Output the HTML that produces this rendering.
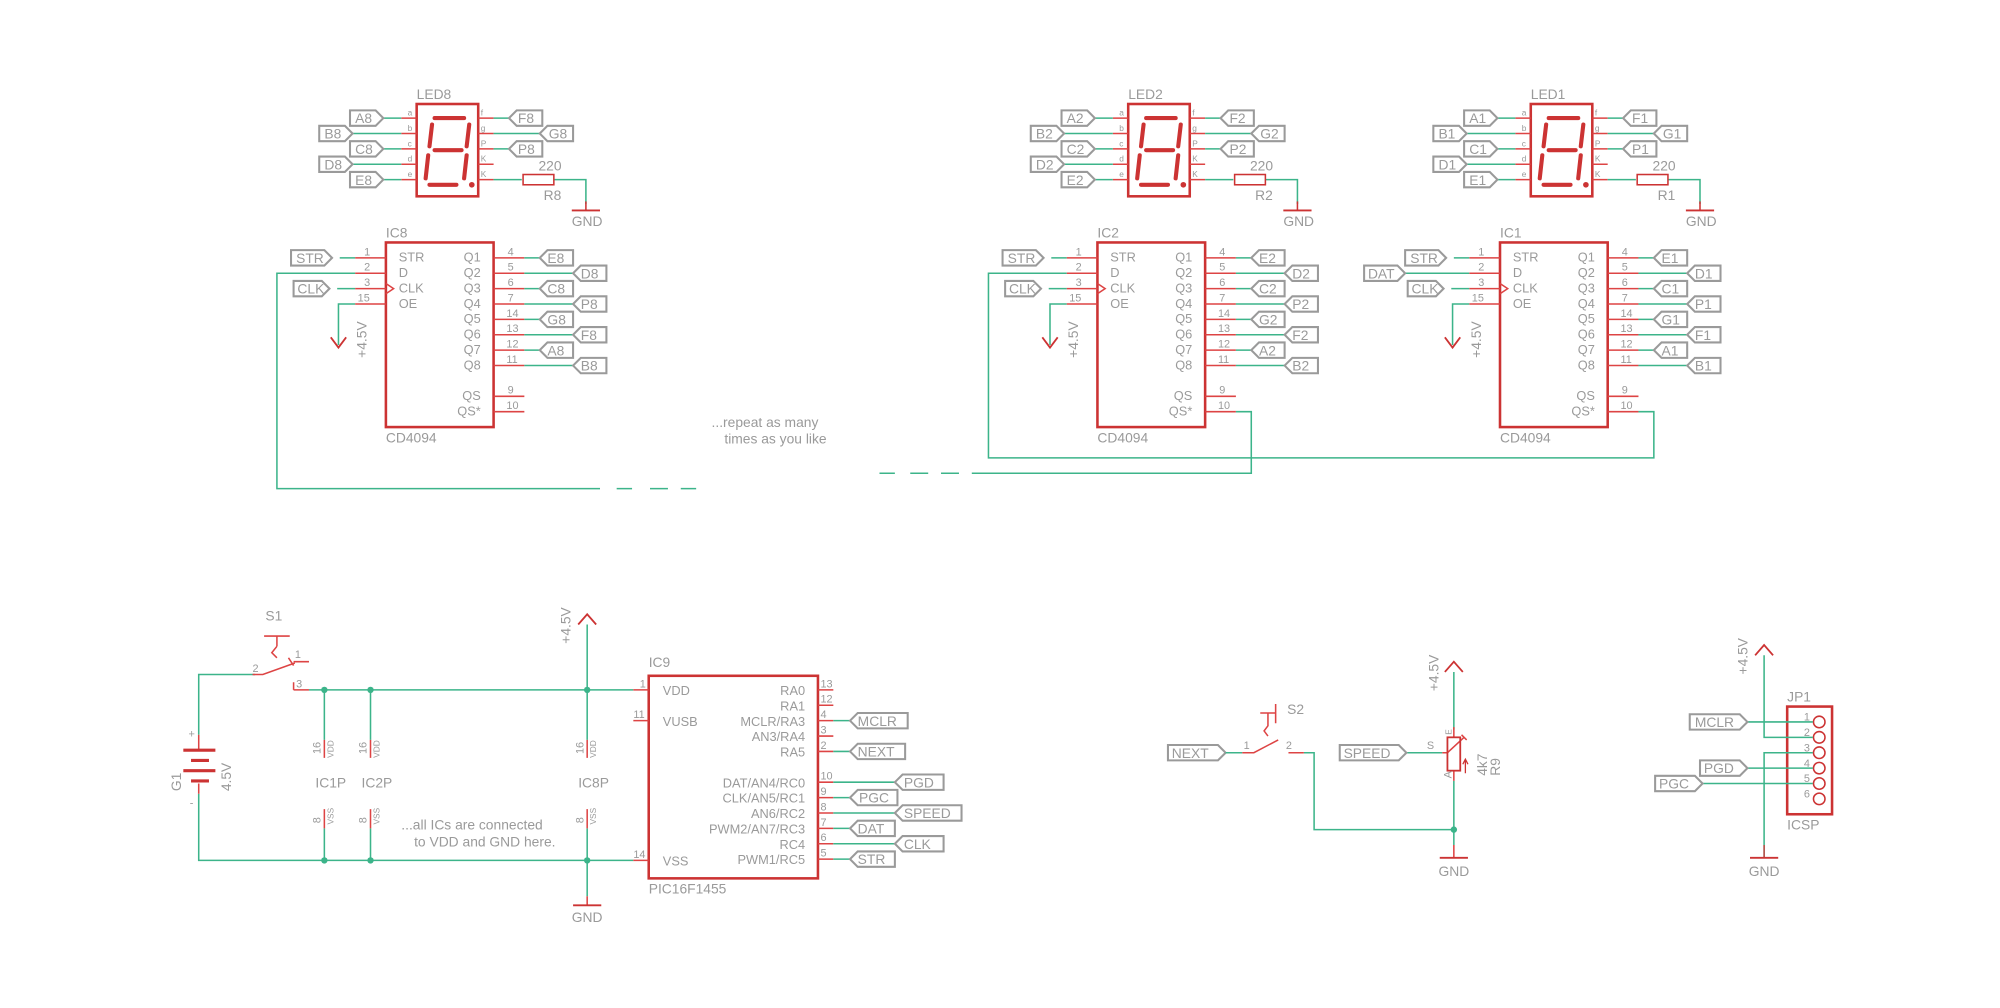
<!DOCTYPE html>
<html><head><meta charset="utf-8"><style>
html,body{margin:0;padding:0;background:#fff;}
svg{display:block}
text{font-family:"Liberation Sans",sans-serif;fill:#9a9a9a;}
.b{fill:none;stroke:#cc3333;stroke-width:2}
.p{stroke:#d44;stroke-width:1.2;fill:none}
.g{stroke:#3cb48a;stroke-width:1.2;fill:none}
.l{fill:#fff;stroke:#9a9a9a;stroke-width:1.6}
.s{font-size:10px}
.n{font-size:8.5px}
.t{font-size:10.8px}
.k{font-size:6.5px}
.seg{stroke:#cc3333;stroke-width:3.2;stroke-linecap:round;fill:none}
</style></head><body>
<svg width="2000" height="1008" viewBox="0 0 1560 786" xmlns="http://www.w3.org/2000/svg">
<g transform="translate(-2,-1)">

<!-- ===== LED8 ===== -->
<g id="led8">
<rect class="b" x="327" y="82" width="48" height="72"/>
<line class="seg" x1="341" y1="93" x2="364" y2="93"/>
<line class="seg" x1="339" y1="98" x2="337" y2="115"/>
<line class="seg" x1="368" y1="98" x2="366" y2="115"/>
<line class="seg" x1="341" y1="118" x2="362" y2="118"/>
<line class="seg" x1="336" y1="122" x2="334" y2="140"/>
<line class="seg" x1="366" y1="122" x2="364" y2="140"/>
<line class="seg" x1="337" y1="145" x2="358" y2="145"/>
<circle cx="370" cy="145" r="2.2" fill="#cc3333"/>
<text class="t" x="327" y="78">LED8</text>
<g class="p"><path d="M315 93H327M315 105H327M315 117H327M315 129H327M315 141H327M375 93H387M375 105H387M375 117H387M375 129H387M375 141H387"/></g>
<g class="g"><path d="M301 93H315M277 105H315M301 117H315M277 129H315M301 141H315M387 93H399M387 105H423M387 117H399M387 141H409M434 141H459V160"/></g>
<g class="k"><text x="320" y="91">a</text><text x="320" y="103">b</text><text x="320" y="115">c</text><text x="320" y="127">d</text><text x="320" y="139">e</text><text x="377" y="91">f</text><text x="377" y="103">g</text><text x="377" y="115">P</text><text x="377" y="127">K</text><text x="377" y="139">K</text></g>
<rect x="410" y="137" width="24" height="8" fill="none" stroke="#cc3333" stroke-width="1.2"/>
<line x1="448" y1="165" x2="470" y2="165" stroke="#cc3333" stroke-width="1.5"/>
<line x1="459" y1="158" x2="459" y2="165" stroke="#cc3333" stroke-width="1.2"/>
<text class="t" x="422" y="134">220</text><text class="t" x="426" y="157">R8</text><text class="t" x="448" y="177">GND</text>
<polygon class="l" points="275,87 295,87 301,93 295,99 275,99"/><text class="t" x="279" y="97">A8</text>
<polygon class="l" points="251,99 271,99 277,105 271,111 251,111"/><text class="t" x="255" y="109">B8</text>
<polygon class="l" points="275,111 295,111 301,117 295,123 275,123"/><text class="t" x="279" y="121">C8</text>
<polygon class="l" points="251,123 271,123 277,129 271,135 251,135"/><text class="t" x="255" y="133">D8</text>
<polygon class="l" points="275,135 295,135 301,141 295,147 275,147"/><text class="t" x="279" y="145">E8</text>
<polygon class="l" points="399,93 405,87 425,87 425,99 405,99"/><text class="t" x="406" y="97">F8</text>
<polygon class="l" points="423,105 429,99 449,99 449,111 429,111"/><text class="t" x="430" y="109">G8</text>
<polygon class="l" points="399,117 405,111 425,111 425,123 405,123"/><text class="t" x="406" y="121">P8</text>
</g>

<!-- LED2 -->
<g transform="translate(555,0)">
<rect class="b" x="327" y="82" width="48" height="72"/>
<line class="seg" x1="341" y1="93" x2="364" y2="93"/><line class="seg" x1="339" y1="98" x2="337" y2="115"/><line class="seg" x1="368" y1="98" x2="366" y2="115"/><line class="seg" x1="341" y1="118" x2="362" y2="118"/><line class="seg" x1="336" y1="122" x2="334" y2="140"/><line class="seg" x1="366" y1="122" x2="364" y2="140"/><line class="seg" x1="337" y1="145" x2="358" y2="145"/>
<circle cx="370" cy="145" r="2.2" fill="#cc3333"/>
<text class="t" x="327" y="78">LED2</text>
<g class="p"><path d="M315 93H327M315 105H327M315 117H327M315 129H327M315 141H327M375 93H387M375 105H387M375 117H387M375 129H387M375 141H387"/></g>
<g class="g"><path d="M301 93H315M277 105H315M301 117H315M277 129H315M301 141H315M387 93H399M387 105H423M387 117H399M387 141H409M434 141H459V160"/></g>
<g class="k"><text x="320" y="91">a</text><text x="320" y="103">b</text><text x="320" y="115">c</text><text x="320" y="127">d</text><text x="320" y="139">e</text><text x="377" y="91">f</text><text x="377" y="103">g</text><text x="377" y="115">P</text><text x="377" y="127">K</text><text x="377" y="139">K</text></g>
<rect x="410" y="137" width="24" height="8" fill="none" stroke="#cc3333" stroke-width="1.2"/>
<line x1="448" y1="165" x2="470" y2="165" stroke="#cc3333" stroke-width="1.5"/><line x1="459" y1="158" x2="459" y2="165" stroke="#cc3333" stroke-width="1.2"/>
<text class="t" x="422" y="134">220</text><text class="t" x="426" y="157">R2</text><text class="t" x="448" y="177">GND</text>
<polygon class="l" points="275,87 295,87 301,93 295,99 275,99"/><text class="t" x="279" y="97">A2</text>
<polygon class="l" points="251,99 271,99 277,105 271,111 251,111"/><text class="t" x="255" y="109">B2</text>
<polygon class="l" points="275,111 295,111 301,117 295,123 275,123"/><text class="t" x="279" y="121">C2</text>
<polygon class="l" points="251,123 271,123 277,129 271,135 251,135"/><text class="t" x="255" y="133">D2</text>
<polygon class="l" points="275,135 295,135 301,141 295,147 275,147"/><text class="t" x="279" y="145">E2</text>
<polygon class="l" points="399,93 405,87 425,87 425,99 405,99"/><text class="t" x="406" y="97">F2</text>
<polygon class="l" points="423,105 429,99 449,99 449,111 429,111"/><text class="t" x="430" y="109">G2</text>
<polygon class="l" points="399,117 405,111 425,111 425,123 405,123"/><text class="t" x="406" y="121">P2</text>
</g>

<!-- LED1 -->
<g transform="translate(869,0)">
<rect class="b" x="327" y="82" width="48" height="72"/>
<line class="seg" x1="341" y1="93" x2="364" y2="93"/><line class="seg" x1="339" y1="98" x2="337" y2="115"/><line class="seg" x1="368" y1="98" x2="366" y2="115"/><line class="seg" x1="341" y1="118" x2="362" y2="118"/><line class="seg" x1="336" y1="122" x2="334" y2="140"/><line class="seg" x1="366" y1="122" x2="364" y2="140"/><line class="seg" x1="337" y1="145" x2="358" y2="145"/>
<circle cx="370" cy="145" r="2.2" fill="#cc3333"/>
<text class="t" x="327" y="78">LED1</text>
<g class="p"><path d="M315 93H327M315 105H327M315 117H327M315 129H327M315 141H327M375 93H387M375 105H387M375 117H387M375 129H387M375 141H387"/></g>
<g class="g"><path d="M301 93H315M277 105H315M301 117H315M277 129H315M301 141H315M387 93H399M387 105H423M387 117H399M387 141H409M434 141H459V160"/></g>
<g class="k"><text x="320" y="91">a</text><text x="320" y="103">b</text><text x="320" y="115">c</text><text x="320" y="127">d</text><text x="320" y="139">e</text><text x="377" y="91">f</text><text x="377" y="103">g</text><text x="377" y="115">P</text><text x="377" y="127">K</text><text x="377" y="139">K</text></g>
<rect x="410" y="137" width="24" height="8" fill="none" stroke="#cc3333" stroke-width="1.2"/>
<line x1="448" y1="165" x2="470" y2="165" stroke="#cc3333" stroke-width="1.5"/><line x1="459" y1="158" x2="459" y2="165" stroke="#cc3333" stroke-width="1.2"/>
<text class="t" x="422" y="134">220</text><text class="t" x="426" y="157">R1</text><text class="t" x="448" y="177">GND</text>
<polygon class="l" points="275,87 295,87 301,93 295,99 275,99"/><text class="t" x="279" y="97">A1</text>
<polygon class="l" points="251,99 271,99 277,105 271,111 251,111"/><text class="t" x="255" y="109">B1</text>
<polygon class="l" points="275,111 295,111 301,117 295,123 275,123"/><text class="t" x="279" y="121">C1</text>
<polygon class="l" points="251,123 271,123 277,129 271,135 251,135"/><text class="t" x="255" y="133">D1</text>
<polygon class="l" points="275,135 295,135 301,141 295,147 275,147"/><text class="t" x="279" y="145">E1</text>
<polygon class="l" points="399,93 405,87 425,87 425,99 405,99"/><text class="t" x="406" y="97">F1</text>
<polygon class="l" points="423,105 429,99 449,99 449,111 429,111"/><text class="t" x="430" y="109">G1</text>
<polygon class="l" points="399,117 405,111 425,111 425,123 405,123"/><text class="t" x="406" y="121">P1</text>
</g>

<!-- ===== Shift registers ===== -->
<!-- IC8 -->
<g>
<rect class="b" x="303" y="190" width="84" height="144"/>
<text class="t" x="303" y="186">IC8</text><text class="t" x="303" y="346">CD4094</text>
<g class="p"><path d="M279 202H303M279 214H303M279 226H303M279 238H303M387 202H411M387 214H411M387 226H411M387 238H411M387 250H411M387 262H411M387 274H411M387 286H411M387 310H411M387 322H411M303 222L309 226L303 230"/></g>
<g class="s"><text x="313" y="205">STR</text><text x="313" y="217">D</text><text x="313" y="229">CLK</text><text x="313" y="241">OE</text>
<text x="377" y="205" text-anchor="end">Q1</text><text x="377" y="217" text-anchor="end">Q2</text><text x="377" y="229" text-anchor="end">Q3</text><text x="377" y="241" text-anchor="end">Q4</text><text x="377" y="253" text-anchor="end">Q5</text><text x="377" y="265" text-anchor="end">Q6</text><text x="377" y="277" text-anchor="end">Q7</text><text x="377" y="289" text-anchor="end">Q8</text><text x="377" y="313" text-anchor="end">QS</text><text x="377" y="325" text-anchor="end">QS*</text></g>
<g class="n"><text x="286" y="200">1</text><text x="286" y="212">2</text><text x="286" y="224">3</text><text x="281" y="236">15</text>
<text x="398" y="200">4</text><text x="398" y="212">5</text><text x="398" y="224">6</text><text x="398" y="236">7</text><text x="397" y="248">14</text><text x="397" y="260">13</text><text x="397" y="272">12</text><text x="397" y="284">11</text><text x="398" y="308">9</text><text x="397" y="320">10</text></g>
<g class="g"><path d="M411 202H423M411 214H449M411 226H423M411 238H449M411 250H423M411 262H449M411 274H423M411 286H449M279 238H266V270M267 202H279M265 226H279"/></g>
<path d="M260 264L266 272L272 264" fill="none" stroke="#cc3333" stroke-width="1.4"/>
<text class="t" transform="translate(288,280) rotate(-90)">+4.5V</text>
<polygon class="l" points="229,196 255,196 261,202 255,208 229,208"/><text class="t" x="233" y="206">STR</text>
<polygon class="l" points="231,220 253,220 259,226 253,232 231,232"/><text class="t" x="234" y="230">CLK</text>
<polygon class="l" points="423,202 429,196 449,196 449,208 429,208"/><text class="t" x="429" y="206">E8</text>
<polygon class="l" points="449,214 455,208 475,208 475,220 455,220"/><text class="t" x="455" y="218">D8</text>
<polygon class="l" points="423,226 429,220 449,220 449,232 429,232"/><text class="t" x="429" y="230">C8</text>
<polygon class="l" points="449,238 455,232 475,232 475,244 455,244"/><text class="t" x="455" y="242">P8</text>
<polygon class="l" points="423,250 429,244 449,244 449,256 429,256"/><text class="t" x="429" y="254">G8</text>
<polygon class="l" points="449,262 455,256 475,256 475,268 455,268"/><text class="t" x="455" y="266">F8</text>
<polygon class="l" points="423,274 429,268 449,268 449,280 429,280"/><text class="t" x="429" y="278">A8</text>
<polygon class="l" points="449,286 455,280 475,280 475,292 455,292"/><text class="t" x="455" y="290">B8</text>
</g>

<!-- IC2 -->
<g transform="translate(555,0)">
<rect class="b" x="303" y="190" width="84" height="144"/>
<text class="t" x="303" y="186">IC2</text><text class="t" x="303" y="346">CD4094</text>
<g class="p"><path d="M279 202H303M279 214H303M279 226H303M279 238H303M387 202H411M387 214H411M387 226H411M387 238H411M387 250H411M387 262H411M387 274H411M387 286H411M387 310H411M387 322H411M303 222L309 226L303 230"/></g>
<g class="s"><text x="313" y="205">STR</text><text x="313" y="217">D</text><text x="313" y="229">CLK</text><text x="313" y="241">OE</text>
<text x="377" y="205" text-anchor="end">Q1</text><text x="377" y="217" text-anchor="end">Q2</text><text x="377" y="229" text-anchor="end">Q3</text><text x="377" y="241" text-anchor="end">Q4</text><text x="377" y="253" text-anchor="end">Q5</text><text x="377" y="265" text-anchor="end">Q6</text><text x="377" y="277" text-anchor="end">Q7</text><text x="377" y="289" text-anchor="end">Q8</text><text x="377" y="313" text-anchor="end">QS</text><text x="377" y="325" text-anchor="end">QS*</text></g>
<g class="n"><text x="286" y="200">1</text><text x="286" y="212">2</text><text x="286" y="224">3</text><text x="281" y="236">15</text>
<text x="398" y="200">4</text><text x="398" y="212">5</text><text x="398" y="224">6</text><text x="398" y="236">7</text><text x="397" y="248">14</text><text x="397" y="260">13</text><text x="397" y="272">12</text><text x="397" y="284">11</text><text x="398" y="308">9</text><text x="397" y="320">10</text></g>
<g class="g"><path d="M411 202H423M411 214H449M411 226H423M411 238H449M411 250H423M411 262H449M411 274H423M411 286H449M279 238H266V270M267 202H279M265 226H279"/></g>
<path d="M260 264L266 272L272 264" fill="none" stroke="#cc3333" stroke-width="1.4"/>
<text class="t" transform="translate(288,280) rotate(-90)">+4.5V</text>
<polygon class="l" points="229,196 255,196 261,202 255,208 229,208"/><text class="t" x="233" y="206">STR</text>
<polygon class="l" points="231,220 253,220 259,226 253,232 231,232"/><text class="t" x="234" y="230">CLK</text>
<polygon class="l" points="423,202 429,196 449,196 449,208 429,208"/><text class="t" x="429" y="206">E2</text>
<polygon class="l" points="449,214 455,208 475,208 475,220 455,220"/><text class="t" x="455" y="218">D2</text>
<polygon class="l" points="423,226 429,220 449,220 449,232 429,232"/><text class="t" x="429" y="230">C2</text>
<polygon class="l" points="449,238 455,232 475,232 475,244 455,244"/><text class="t" x="455" y="242">P2</text>
<polygon class="l" points="423,250 429,244 449,244 449,256 429,256"/><text class="t" x="429" y="254">G2</text>
<polygon class="l" points="449,262 455,256 475,256 475,268 455,268"/><text class="t" x="455" y="266">F2</text>
<polygon class="l" points="423,274 429,268 449,268 449,280 429,280"/><text class="t" x="429" y="278">A2</text>
<polygon class="l" points="449,286 455,280 475,280 475,292 455,292"/><text class="t" x="455" y="290">B2</text>
</g>

<!-- IC1 -->
<g transform="translate(869,0)">
<rect class="b" x="303" y="190" width="84" height="144"/>
<text class="t" x="303" y="186">IC1</text><text class="t" x="303" y="346">CD4094</text>
<g class="p"><path d="M279 202H303M279 214H303M279 226H303M279 238H303M387 202H411M387 214H411M387 226H411M387 238H411M387 250H411M387 262H411M387 274H411M387 286H411M387 310H411M387 322H411M303 222L309 226L303 230"/></g>
<g class="s"><text x="313" y="205">STR</text><text x="313" y="217">D</text><text x="313" y="229">CLK</text><text x="313" y="241">OE</text>
<text x="377" y="205" text-anchor="end">Q1</text><text x="377" y="217" text-anchor="end">Q2</text><text x="377" y="229" text-anchor="end">Q3</text><text x="377" y="241" text-anchor="end">Q4</text><text x="377" y="253" text-anchor="end">Q5</text><text x="377" y="265" text-anchor="end">Q6</text><text x="377" y="277" text-anchor="end">Q7</text><text x="377" y="289" text-anchor="end">Q8</text><text x="377" y="313" text-anchor="end">QS</text><text x="377" y="325" text-anchor="end">QS*</text></g>
<g class="n"><text x="286" y="200">1</text><text x="286" y="212">2</text><text x="286" y="224">3</text><text x="281" y="236">15</text>
<text x="398" y="200">4</text><text x="398" y="212">5</text><text x="398" y="224">6</text><text x="398" y="236">7</text><text x="397" y="248">14</text><text x="397" y="260">13</text><text x="397" y="272">12</text><text x="397" y="284">11</text><text x="398" y="308">9</text><text x="397" y="320">10</text></g>
<g class="g"><path d="M411 202H423M411 214H449M411 226H423M411 238H449M411 250H423M411 262H449M411 274H423M411 286H449M279 238H266V270M267 202H279M265 226H279M229 214H279"/></g>
<path d="M260 264L266 272L272 264" fill="none" stroke="#cc3333" stroke-width="1.4"/>
<text class="t" transform="translate(288,280) rotate(-90)">+4.5V</text>
<polygon class="l" points="229,196 255,196 261,202 255,208 229,208"/><text class="t" x="233" y="206">STR</text>
<polygon class="l" points="197,208 223,208 229,214 223,220 197,220"/><text class="t" x="200" y="218">DAT</text>
<polygon class="l" points="231,220 253,220 259,226 253,232 231,232"/><text class="t" x="234" y="230">CLK</text>
<polygon class="l" points="423,202 429,196 449,196 449,208 429,208"/><text class="t" x="429" y="206">E1</text>
<polygon class="l" points="449,214 455,208 475,208 475,220 455,220"/><text class="t" x="455" y="218">D1</text>
<polygon class="l" points="423,226 429,220 449,220 449,232 429,232"/><text class="t" x="429" y="230">C1</text>
<polygon class="l" points="449,238 455,232 475,232 475,244 455,244"/><text class="t" x="455" y="242">P1</text>
<polygon class="l" points="423,250 429,244 449,244 449,256 429,256"/><text class="t" x="429" y="254">G1</text>
<polygon class="l" points="449,262 455,256 475,256 475,268 455,268"/><text class="t" x="455" y="266">F1</text>
<polygon class="l" points="423,274 429,268 449,268 449,280 429,280"/><text class="t" x="429" y="278">A1</text>
<polygon class="l" points="449,286 455,280 475,280 475,292 455,292"/><text class="t" x="455" y="290">B1</text>
</g>

<!-- chain wires -->
<g class="g">
<path d="M279 214H218V382H470M483 382H495M509 382H523M533 382H545"/>
<path d="M688 370H700M712 370H726M736 370H750M760 370H978V322H966"/>
<path d="M834 214H773V358H1292V322H1280"/>
</g>
<text class="t" x="557" y="334">...repeat as many</text>
<text class="t" x="567" y="347">times as you like</text>

<!-- ===== Power section ===== -->
<g class="g">
<path d="M201 527H157V574M157 620V672H496"/>
<path d="M243 539H496"/>
<path d="M255 539V578M255 647V672M291 539V578M291 647V672M460 488V578M460 647V700"/>
</g>
<g fill="#3cb48a"><circle cx="255" cy="539" r="2.5"/><circle cx="291" cy="539" r="2.5"/><circle cx="460" cy="539" r="2.5"/><circle cx="255" cy="672" r="2.5"/><circle cx="291" cy="672" r="2.5"/><circle cx="460" cy="672" r="2.5"/></g>
<g class="p"><path d="M255 578V592M255 632V647M291 578V592M291 632V647M460 578V592M460 632V647M157 574V586M157 612V620M460 700V707"/></g>
<g stroke="#cc3333" stroke-width="2.4"><line x1="145" y1="586" x2="170" y2="586"/><line x1="151" y1="594" x2="165" y2="594"/><line x1="145" y1="602" x2="170" y2="602"/><line x1="151" y1="610" x2="165" y2="610"/></g>
<text class="n" x="149" y="576">+</text><text class="n" x="150" y="630">-</text>
<text class="t" transform="translate(143,618) rotate(-90)">G1</text>
<text class="t" transform="translate(182,618) rotate(-90)">4.5V</text>
<g class="p" stroke-width="1.4"><path d="M208 497H228M218 497V505M218 505L214 510L218 514M199 527H207L232 518M227 514L231 520M231 517H243M231 539H243M231 533V539"/></g>
<text class="t" x="209" y="485">S1</text>
<text class="n" x="199" y="525">2</text><text class="n" x="232" y="514">1</text><text class="n" x="233" y="537">3</text>
<g class="k"><text transform="translate(262,592) rotate(-90)">VDD</text><text transform="translate(298,592) rotate(-90)">VDD</text><text transform="translate(467,592) rotate(-90)">VDD</text>
<text transform="translate(262,644) rotate(-90)">VSS</text><text transform="translate(298,644) rotate(-90)">VSS</text><text transform="translate(467,644) rotate(-90)">VSS</text></g>
<g class="n"><text transform="translate(252,589) rotate(-90)">16</text><text transform="translate(288,589) rotate(-90)">16</text><text transform="translate(457,589) rotate(-90)">16</text>
<text transform="translate(252,643) rotate(-90)">8</text><text transform="translate(288,643) rotate(-90)">8</text><text transform="translate(457,643) rotate(-90)">8</text></g>
<text class="t" x="248" y="615">IC1P</text><text class="t" x="284" y="615">IC2P</text><text class="t" x="453" y="615">IC8P</text>
<text class="t" x="315" y="648">...all ICs are connected</text>
<text class="t" x="325" y="661">to VDD and GND here.</text>
<path d="M453 488L460 480L467 488" fill="none" stroke="#cc3333" stroke-width="1.4"/>
<text class="t" transform="translate(447,503) rotate(-90)">+4.5V</text>
<line x1="449" y1="707" x2="471" y2="707" stroke="#cc3333" stroke-width="1.5"/>
<text class="t" x="448" y="720">GND</text>

<!-- IC9 -->
<rect class="b" x="508" y="528" width="132" height="158" stroke-width="1.6"/>
<text class="t" x="508" y="521">IC9</text><text class="t" x="508" y="698">PIC16F1455</text>
<g class="p"><path d="M496 539H508M496 563H508M496 672H508M640 539H652M640 551H652M640 563H652M640 575H652M640 587H652M640 611H652M640 623H652M640 635H652M640 647H652M640 659H652M640 671H652"/></g>
<g class="s"><text x="519" y="543">VDD</text><text x="519" y="567">VUSB</text><text x="519" y="676">VSS</text>
<g text-anchor="end"><text x="630" y="543">RA0</text><text x="630" y="555">RA1</text><text x="630" y="567">MCLR/RA3</text><text x="630" y="579">AN3/RA4</text><text x="630" y="591">RA5</text><text x="630" y="615">DAT/AN4/RC0</text><text x="630" y="627">CLK/AN5/RC1</text><text x="630" y="639">AN6/RC2</text><text x="630" y="651">PWM2/AN7/RC3</text><text x="630" y="663">RC4</text><text x="630" y="675">PWM1/RC5</text></g></g>
<g class="n"><text x="501" y="537">1</text><text x="496" y="561">11</text><text x="496" y="670">14</text>
<text x="642" y="537">13</text><text x="642" y="549">12</text><text x="642" y="561">4</text><text x="642" y="573">3</text><text x="642" y="585">2</text><text x="642" y="609">10</text><text x="642" y="621">9</text><text x="642" y="633">8</text><text x="642" y="645">7</text><text x="642" y="657">6</text><text x="642" y="669">5</text></g>
<g class="g"><path d="M652 563H665M652 587H665M652 611H700M652 623H665M652 635H700M652 647H665M652 659H700M652 671H665"/></g>
<polygon class="l" points="665,563 671,557 710,557 710,569 671,569"/><text class="t" x="671" y="567">MCLR</text>
<polygon class="l" points="665,587 671,581 708,581 708,593 671,593"/><text class="t" x="671" y="591">NEXT</text>
<polygon class="l" points="700,611 706,605 738,605 738,617 706,617"/><text class="t" x="707" y="615">PGD</text>
<polygon class="l" points="665,623 671,617 702,617 702,629 671,629"/><text class="t" x="672" y="627">PGC</text>
<polygon class="l" points="700,635 706,629 752,629 752,641 706,641"/><text class="t" x="707" y="639">SPEED</text>
<polygon class="l" points="665,647 671,641 700,641 700,653 671,653"/><text class="t" x="671" y="651">DAT</text>
<polygon class="l" points="700,659 706,653 738,653 738,665 706,665"/><text class="t" x="707" y="663">CLK</text>
<polygon class="l" points="665,671 671,665 700,665 700,677 671,677"/><text class="t" x="671" y="675">STR</text>

<!-- S2 / pot -->
<polygon class="l" points="913,582 952,582 958,588 952,594 913,594"/><text class="t" x="916" y="592">NEXT</text>
<g class="g"><path d="M958 588H971M1019 588H1027V648H1136M1127 588H1099M1136 525V570M1136 610V660"/></g>
<circle cx="1136" cy="648" r="2.5" fill="#3cb48a"/>
<g class="p" stroke-width="1.4"><path d="M971 588H980L999 578M1007 588H1019M985 557H997M997 550V565M991 557V567L988 571L991 575M1136 568V576M1136 602V610M1127 588H1131L1144 576M1142 574L1146 578M1136 660V670"/></g>
<rect x="1131" y="576" width="10" height="26" fill="none" stroke="#cc3333" stroke-width="1.4"/>
<path d="M1145 604V594M1143 597L1145 593L1147 597" stroke="#cc3333" fill="none"/>
<text class="t" x="1006" y="558">S2</text>
<text class="n" x="972" y="585">1</text><text class="n" x="1005" y="585">2</text>
<polygon class="l" points="1047,582 1093,582 1099,588 1093,594 1047,594"/><text class="t" x="1050" y="592">SPEED</text>
<text class="n" x="1115" y="585">S</text>
<text class="k" transform="translate(1134,574) rotate(-90)">E</text>
<text class="n" transform="translate(1134,608) rotate(-90)">A</text>
<text class="t" transform="translate(1162,606) rotate(-90)">4k7</text>
<text class="t" transform="translate(1172,606) rotate(-90)">R9</text>
<path d="M1129 525L1136 517L1143 525" fill="none" stroke="#cc3333" stroke-width="1.4"/>
<text class="t" transform="translate(1124,540) rotate(-90)">+4.5V</text>
<line x1="1125" y1="670" x2="1147" y2="670" stroke="#cc3333" stroke-width="1.5"/>
<text class="t" x="1124" y="684">GND</text>

<!-- JP1 -->
<rect class="b" x="1396" y="552" width="35" height="84"/>
<g fill="none" stroke="#cc3333" stroke-width="1.2"><circle cx="1421" cy="564" r="4.5"/><circle cx="1421" cy="576" r="4.5"/><circle cx="1421" cy="588" r="4.5"/><circle cx="1421" cy="600" r="4.5"/><circle cx="1421" cy="612" r="4.5"/><circle cx="1421" cy="624" r="4.5"/></g>
<g class="n"><text x="1409" y="563">1</text><text x="1409" y="575">2</text><text x="1409" y="587">3</text><text x="1409" y="599">4</text><text x="1409" y="611">5</text><text x="1409" y="623">6</text></g>
<text class="t" x="1396" y="548">JP1</text><text class="t" x="1396" y="648">ICSP</text>
<g class="g"><path d="M1365 564H1416M1378 512V576H1416M1378 670V588H1416M1365 600H1416M1330 612H1416"/></g>
<path d="M1371 512L1378 504L1385 512" fill="none" stroke="#cc3333" stroke-width="1.4"/>
<line x1="1378" y1="660" x2="1378" y2="670" stroke="#cc3333"/>
<line x1="1367" y1="670" x2="1389" y2="670" stroke="#cc3333" stroke-width="1.5"/>
<text class="t" x="1366" y="684">GND</text>
<text class="t" transform="translate(1365,527) rotate(-90)">+4.5V</text>
<polygon class="l" points="1320,558 1359,558 1365,564 1359,570 1320,570"/><text class="t" x="1324" y="568">MCLR</text>
<polygon class="l" points="1328,594 1359,594 1365,600 1359,606 1328,606"/><text class="t" x="1331" y="604">PGD</text>
<polygon class="l" points="1293,606 1324,606 1330,612 1324,618 1293,618"/><text class="t" x="1296" y="616">PGC</text>
</g>
</svg>
</body></html>
